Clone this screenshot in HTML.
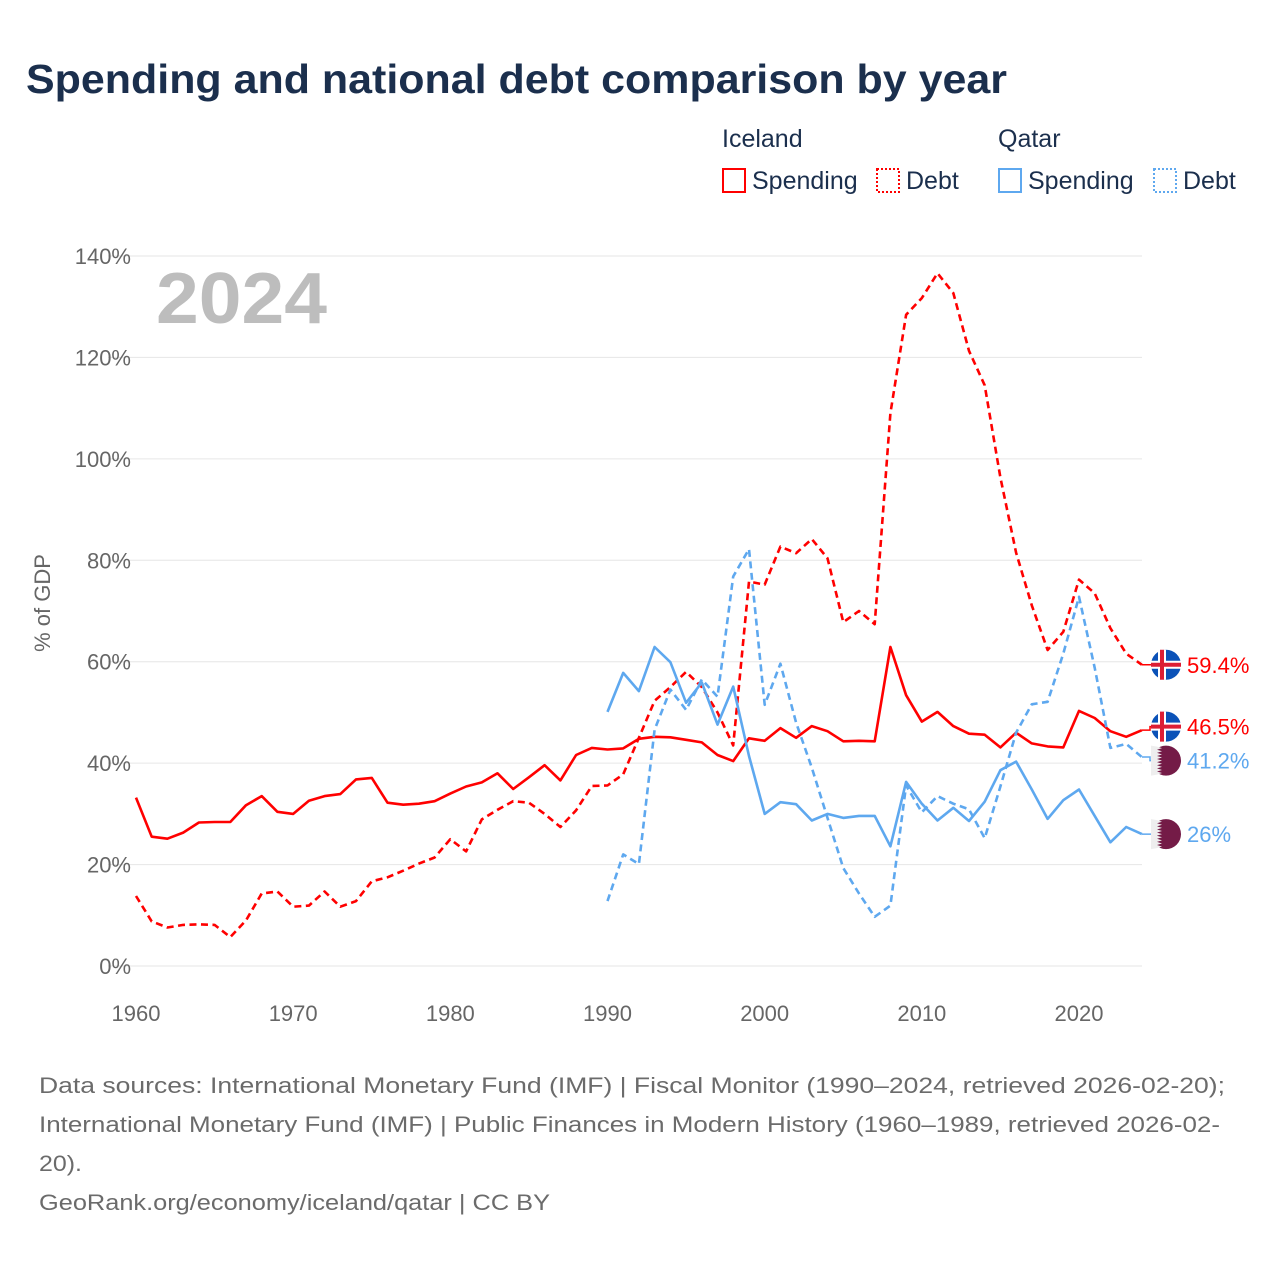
<!DOCTYPE html>
<html><head><meta charset="utf-8"><style>
html,body{margin:0;padding:0;background:#fff;}
body{width:1280px;height:1280px;overflow:hidden;font-family:"Liberation Sans",sans-serif;}
</style></head><body>
<svg id="chart" width="1280" height="1280" viewBox="0 0 1280 1280" xmlns="http://www.w3.org/2000/svg" font-family="Liberation Sans, sans-serif">
<text x="26" y="93" font-size="41" font-weight="bold" fill="#1b2f4d" textLength="981" lengthAdjust="spacingAndGlyphs">Spending and national debt comparison by year</text>
<g fill="#1b2f4d" font-size="25">
<text x="722" y="147">Iceland</text>
<text x="998" y="147">Qatar</text>
<g><rect x="723" y="169" width="22" height="23" fill="none" stroke="#f00" stroke-width="2"/><text x="752" y="189">Spending</text></g>
<g><rect x="877" y="169" width="22" height="23" fill="none" stroke="#f00" stroke-width="2" stroke-dasharray="2,2"/><text x="906" y="189">Debt</text></g>
<g><rect x="999" y="169" width="22" height="23" fill="none" stroke="#5ea8ef" stroke-width="2"/><text x="1028" y="189">Spending</text></g>
<g><rect x="1154" y="169" width="22" height="23" fill="none" stroke="#5ea8ef" stroke-width="2" stroke-dasharray="2,2"/><text x="1183" y="189">Debt</text></g>
</g>
<g id="grid"></g>
<g id="yticks" font-size="22" fill="#666" text-anchor="end"></g>
<g id="xticks" font-size="22" fill="#666" text-anchor="middle"></g>
<text transform="translate(50,603) rotate(-90)" text-anchor="middle" font-size="22" fill="#666">% of GDP</text>
<text x="156" y="323" font-size="72" font-weight="bold" fill="#bdbdbd" textLength="171" lengthAdjust="spacingAndGlyphs">2024</text>
<g id="series"></g>
<g id="endlabels" font-size="22"></g>
<g font-size="22.5" fill="#6b6b6b">
<text x="39" y="1093" textLength="1186" lengthAdjust="spacingAndGlyphs">Data sources: International Monetary Fund (IMF) | Fiscal Monitor (1990–2024, retrieved 2026-02-20);</text>
<text x="39" y="1132" textLength="1181" lengthAdjust="spacingAndGlyphs">International Monetary Fund (IMF) | Public Finances in Modern History (1960–1989, retrieved 2026-02-</text>
<text x="39" y="1171" textLength="43" lengthAdjust="spacingAndGlyphs">20).</text>
<text x="39" y="1210" textLength="511" lengthAdjust="spacingAndGlyphs">GeoRank.org/economy/iceland/qatar | CC BY</text>
</g>
</svg>
<script>
const yTicks=[0,20,40,60,80,100,120,140];
const xTicks=[1960,1970,1980,1990,2000,2010,2020];
const icelandYears=[];for(let y=1960;y<=2024;y++)icelandYears.push(y);
const qatarYears=[];for(let y=1990;y<=2024;y++)qatarYears.push(y);
const icelandSpending=[33.2,25.5,25.1,26.3,28.3,28.4,28.4,31.7,33.5,30.4,30.0,32.6,33.5,33.9,36.8,37.1,32.2,31.8,32.0,32.5,34.0,35.4,36.2,38.0,34.9,37.2,39.6,36.6,41.6,43.0,42.7,42.9,44.8,45.2,45.1,44.6,44.1,41.6,40.4,44.9,44.4,46.9,45.0,47.3,46.3,44.3,44.4,44.3,62.9,53.4,48.2,50.1,47.3,45.8,45.6,43.1,46.0,43.9,43.3,43.1,50.3,48.9,46.3,45.2,46.5];
const icelandDebt=[13.8,8.8,7.6,8.1,8.2,8.1,5.7,9.0,14.3,14.7,11.7,11.9,14.7,11.7,12.8,16.7,17.5,18.8,20.2,21.4,25.0,22.6,28.9,30.8,32.5,32.2,30.0,27.4,30.7,35.5,35.6,37.8,45.0,52.3,55.0,58.0,55.0,50.0,43.5,75.8,75.2,82.7,81.4,84.2,80.4,67.8,70.0,67.4,109.0,128.4,131.7,136.6,132.7,121.3,114.5,96.3,81.5,71.1,62.3,65.9,76.2,73.5,66.6,61.6,59.4];
const qatarSpending=[50.1,57.8,54.2,62.9,59.9,51.9,55.9,47.6,55.1,41.4,30.0,32.3,31.9,28.7,30.0,29.2,29.6,29.6,23.6,36.3,32.0,28.7,31.2,28.6,32.4,38.6,40.3,34.8,29.0,32.7,34.8,29.6,24.4,27.4,26.0];
const qatarDebt=[12.8,22.0,20.1,46.6,54.5,50.5,56.5,53.1,76.8,82.2,51.5,59.6,48.0,39.1,29.2,19.3,14.3,9.7,11.9,35.6,30.3,33.5,32.0,30.9,25.2,35.4,46.0,51.6,52.1,61.6,72.8,58.8,43.0,43.8,41.2];
const NS="http://www.w3.org/2000/svg";
const xS=y=>136+(y-1960)*(943/60);
const yS=v=>966-v*(710/140);
function mk(tag,attrs,parent){const e=document.createElementNS(NS,tag);for(const k in attrs)e.setAttribute(k,attrs[k]);parent.appendChild(e);return e;}
const grid=document.getElementById('grid'),yt=document.getElementById('yticks'),xt=document.getElementById('xticks');
yTicks.forEach(v=>{
 const l=mk('line',{x1:108,x2:1142,y1:yS(v),y2:yS(v),stroke:'#e6e6e6','stroke-width':1},grid);
 
 
 const t=mk('text',{x:131,y:yS(v)+8},yt);t.textContent=v+'%';
 
 
});
xTicks.forEach(v=>{
 const t=mk('text',{x:xS(v),y:1021},xt);t.textContent=v;
 
 
});
const ser=document.getElementById('series');
function line(years,vals,color,dash,name){
 const d=vals.map((v,i)=>(i?'L':'M')+xS(years[i]).toFixed(1)+' '+yS(v).toFixed(1)).join(' ');
 const p=mk('path',{d:d,fill:'none',stroke:color,'stroke-width':2.6,'stroke-linejoin':'round'},ser);
 if(dash)p.setAttribute('stroke-dasharray','7,4.5');
 
 
}
line(icelandYears,icelandSpending,'#ff0000',false,'iceland-spending-line');
line(icelandYears,icelandDebt,'#ff0000',true,'iceland-debt-line');
line(qatarYears,qatarSpending,'#5ea8ef',false,'qatar-spending-line');
line(qatarYears,qatarDebt,'#5ea8ef',true,'qatar-debt-line');
const el=document.getElementById('endlabels');
const labels=[
 {v:icelandDebt[icelandDebt.length-1],c:'#ff0000',f:'is',n:'iceland-debt-end-label'},
 {v:icelandSpending[icelandSpending.length-1],c:'#ff0000',f:'is',n:'iceland-spending-end-label'},
 {v:qatarDebt[qatarDebt.length-1],c:'#5ea8ef',f:'qa',n:'qatar-debt-end-label'},
 {v:qatarSpending[qatarSpending.length-1],c:'#5ea8ef',f:'qa',n:'qatar-spending-end-label'}];
labels.forEach(l=>l.y=yS(l.v));
labels.sort((a,b)=>a.y-b.y);
for(let it=0;it<5;it++)for(let i=1;i<labels.length;i++){const g=labels[i].y-labels[i-1].y;if(g<34){const s=(34-g)/2;labels[i].y+=s;labels[i-1].y-=s;}}
labels.forEach(L=>{
 const cy=L.y,cx=1166,ly=yS(L.v);
 const g=mk('g',{},el);
 
 
 mk('path',{d:'M1142 '+ly+' L1150 '+ly+' L1150 '+cy+' L1152 '+cy,fill:'none',stroke:L.c,'stroke-width':1.5},g);
 if(L.f==='is'){
  mk('circle',{cx:cx,cy:cy,r:15,fill:'#0b52b8'},g);
  mk('rect',{x:cx-15,y:cy-4,width:30,height:8,fill:'#fff'},g);
  mk('rect',{x:cx-8,y:cy-15,width:8,height:30,fill:'#fff'},g);
  mk('rect',{x:cx-15,y:cy-2,width:30,height:4,fill:'#dc1e35'},g);
  mk('rect',{x:cx-6,y:cy-15,width:4,height:30,fill:'#dc1e35'},g);
 }else{
  mk('circle',{cx:cx,cy:cy,r:15,fill:'#741b47'},g);
  let d='M'+(cx-15)+' '+(cy-15);
  for(let i=0;i<9;i++){const y0=cy-14+i*28/9;d+=' L'+(cx-9)+' '+y0+' L'+(cx-4)+' '+(y0+1.55)+' L'+(cx-9)+' '+(y0+3.1);}
  d+=' L'+(cx-15)+' '+(cy+15)+' Z';
  mk('path',{d:d,fill:'#eee'},g);
 }
 const t=mk('text',{x:1187,y:cy+8,fill:L.c},g);t.textContent=(Math.round(L.v*10)/10)+'%';
});
</script>
</body></html>
